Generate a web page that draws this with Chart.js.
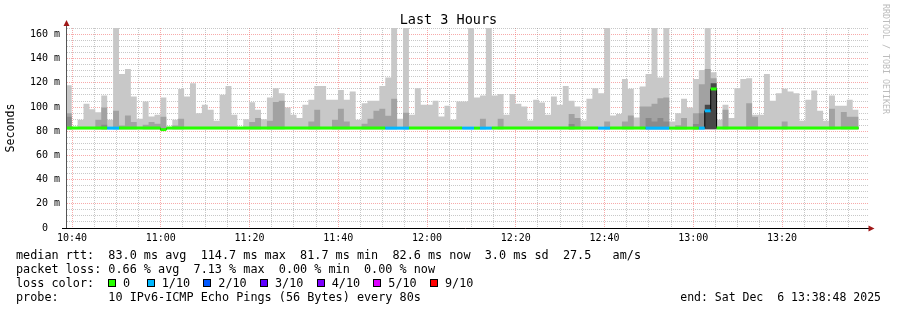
<!DOCTYPE html>
<html>
<head>
<meta charset="utf-8">
<script src="https://cdn.jsdelivr.net/npm/chart.js@4.4.1/dist/chart.umd.min.js"></script>
<style>
  html, body { margin: 0; padding: 0; background: #fff; }
  #wrap { position: relative; width: 897px; height: 310px; overflow: hidden; }
  #c { position: absolute; left: 0; top: 0; }
  .t { position: absolute; font-family: "DejaVu Sans Mono", monospace; white-space: pre; color: #000; }
  .leg { font-size: 11.8px; line-height: 14px; left: 16px; }
  .sq { position: absolute; width: 6px; height: 6px; border: 1px solid #000; top: 279px; }
  .ll { position: absolute; font-family: "DejaVu Sans Mono", monospace; font-size: 11.8px; line-height: 14px; top: 275.5px; white-space: pre; }
</style>
</head>
<body>
<div id="wrap">
  <canvas id="c" width="897" height="310"></canvas>
  <div class="t" id="title" style="left:0;width:897px;top:11px;text-align:center;font-size:13.5px;line-height:16px;">Last 3 Hours</div>
  <div class="t" style="left:881px;top:4px;font-size:8.3px;line-height:10px;color:#bcbcbc;writing-mode:vertical-rl;">RRDTOOL / TOBI OETIKER</div>
  <div class="t leg" style="top:248px;">median rtt:  83.0 ms avg  114.7 ms max  81.7 ms min  82.6 ms now  3.0 ms sd  27.5   am/s</div>
  <div class="t leg" style="top:261.5px;">packet loss: 0.66 % avg  7.13 % max  0.00 % min  0.00 % now</div>
  <div class="t leg" style="top:275.5px;">loss color:</div>
  <div id="losslegend"></div>
  <div class="t leg" style="top:290px;">probe:       10 IPv6-ICMP Echo Pings (56 Bytes) every 80s</div>
  <div class="t leg" style="top:290px;left:auto;right:16px;font-size:11.5px;">end: Sat Dec  6 13:38:48 2025</div>
</div>
<script>
// ---------------- data (ms, one value per 80 s probe step) ----------------
const xTickLabels = ['10:40', '11:00', '11:20', '11:40', '12:00', '12:20', '12:40', '13:00', '13:20'];
const yTickLabels = ['0  ', '20 m', '40 m', '60 m', '80 m', '100 m', '120 m', '140 m', '160 m'];
const lossLegendLabels = ['0', '1/10', '2/10', '3/10', '4/10', '5/10', '9/10'];
const lossLegendTenths = [0, 1, 2, 3, 4, 5, 9];

// outer smoke (max of the 10 pings)
const smokeMax = [
  118, 83, 89.5, 102.7, 98.3, 95.8, 109.5, 89.5, 170, 127.4,
  131.5, 108.7, 90.3, 104.6, 92.2, 93.6, 107.9, 83, 89.5, 115,
  108.7, 119.7, 95, 101.9, 97.7, 88.7, 110.1, 117.5, 93.6, 83,
  90, 104, 97.7, 90, 107.9, 115.6, 111.5, 99.7, 93.6, 90.9,
  101.9, 106, 117.5, 117.5, 106, 106, 114.2, 106, 112.8, 89.5,
  103.2, 105.2, 105.2, 117.5, 124.4, 170, 90.3, 170, 93.6, 115.6,
  101.9, 101.9, 105.2, 92.2, 101, 89.5, 104.6, 104.6, 170, 107.9,
  109.5, 170, 109.5, 110.9, 93.6, 110.9, 102.7, 100.5, 88.9, 106,
  103.8, 93.6, 108.7, 101.9, 117.5, 105.2, 100.5, 88.9, 106.8, 115.6,
  111.5, 170, 93.1, 94.2, 123.3, 115.1, 91.4, 117, 127.4, 170,
  124.4, 170, 88.1, 95, 106.8, 99.7, 123.3, 130.7, 170, 128.8,
  89.5, 101.9, 90.9, 115.6, 123.3, 123.8, 93.6, 93.6, 127.4, 105.2,
  111.5, 115.1, 112.8, 111.5, 88.7, 106, 113.7, 96.9, 88.7, 109.5,
  101, 101, 106, 97.7
];
// inner smoke (medium grey), null = none visible
const smokeMid = [
  95, null, null, null, null, 89.5, 99.7, null, 96.9, 84.8,
  93, 87.6, null, 85.4, 87.6, 86.2, 92, null, 84.8, 90.3,
  null, null, null, null, null, null, null, null, null, null,
  null, 87.6, 90.9, null, 88.7, 104.1, 105.2, null, null, null,
  null, 88.1, 97.7, null, null, 89.5, 98.6, 88.1, null, null,
  86.2, 90.3, 96.9, 98.6, 92.8, 106.8, null, 95.3, null, null,
  null, null, null, null, null, null, null, null, null, null,
  90.3, null, null, 90.3, null, null, null, null, null, null,
  null, null, null, null, null, 94.2, 90.9, null, null, null,
  null, 88.1, null, null, 88.1, 93.1, null, 100.5, 100.5, 102.7,
  107.4, 107.9, null, 85, 90.9, null, 95, 118.9, 131.5, 123.8,
  null, 97.7, null, null, null, 103.2, 92, null, null, null,
  null, 88.1, null, null, null, null, null, null, null, 98.6,
  null, 96, 92, 92
];
// core smoke (dark grey)
const smokeCore = [
  92, null, null, null, null, null, 85.4, null, null, null,
  null, null, null, null, null, null, null, null, null, null,
  null, null, null, null, null, null, null, null, null, null,
  null, null, null, null, null, null, null, null, null, null,
  null, null, null, null, null, null, null, null, null, null,
  null, null, null, null, null, null, null, null, null, null,
  null, null, null, null, null, null, null, null, null, null,
  null, null, null, null, null, null, null, null, null, null,
  null, null, null, null, null, 86, null, null, null, null,
  null, null, null, null, null, null, null, null, 91, 88,
  91, 88, null, null, null, null, 86, 95, null, null,
  null, null, null, null, null, null, null, null, null, null,
  null, null, null, null, null, null, null, null, null, null,
  null, null, null, null
];
// densest smoke (near black)
const smokeDense = [
  null, null, null, null, null, null, null, null, null, null,
  null, null, null, null, null, null, null, null, null, null,
  null, null, null, null, null, null, null, null, null, null,
  null, null, null, null, null, null, null, null, null, null,
  null, null, null, null, null, null, null, null, null, null,
  null, null, null, null, null, null, null, null, null, null,
  null, null, null, null, null, null, null, null, null, null,
  null, null, null, null, null, null, null, null, null, null,
  null, null, null, null, null, null, null, null, null, null,
  null, null, null, null, null, null, null, null, null, null,
  null, null, null, null, null, null, null, null, 101.9, 119.7,
  null, null, null, null, null, null, null, null, null, null,
  null, null, null, null, null, null, null, null, null, null,
  null, null, null, null
];
// median rtt
const medianRtt = [
  82.6, 82.6, 82.6, 82.6, 82.6, 82.6, 82.6, 82.6, 82.6, 82.6,
  82.6, 82.6, 82.6, 82.6, 82.6, 82.6, 81.4, 82.6, 82.6, 82.6,
  82.6, 82.6, 82.6, 82.6, 82.6, 82.6, 82.6, 82.6, 82.6, 82.6,
  82.6, 82.6, 82.6, 82.6, 82.6, 82.6, 82.6, 82.6, 82.6, 82.6,
  82.6, 82.6, 82.6, 82.6, 82.6, 82.6, 82.6, 82.6, 82.6, 82.6,
  82.6, 82.6, 82.6, 82.6, 82.6, 82.6, 82.6, 82.6, 82.6, 82.6,
  82.6, 82.6, 82.6, 82.6, 82.6, 82.6, 82.6, 82.6, 82.6, 82.6,
  82.6, 82.6, 82.6, 82.6, 82.6, 82.6, 82.6, 82.6, 82.6, 82.6,
  82.6, 82.6, 82.6, 82.6, 82.6, 82.6, 82.6, 82.6, 82.6, 82.6,
  82.6, 82.6, 82.6, 82.6, 82.6, 82.6, 82.6, 82.6, 82.6, 82.6,
  82.6, 82.6, 82.6, 82.6, 82.6, 82.6, 82.6, 82.6, 96.9, 115,
  82.6, 82.6, 82.6, 82.6, 82.6, 82.6, 82.6, 82.6, 82.6, 82.6,
  82.6, 82.6, 82.6, 82.6, 82.6, 82.6, 82.6, 82.6, 82.6, 82.6,
  82.6, 82.6, 82.6, 82.6
];
// lost pings out of 10 per step
const lossTenths = [
  0, 0, 0, 0, 0, 0, 0, 1, 1, 0,
  0, 0, 0, 0, 0, 0, 0, 0, 0, 0,
  0, 0, 0, 0, 0, 0, 0, 0, 0, 0,
  0, 0, 0, 0, 0, 0, 0, 0, 0, 0,
  0, 0, 0, 0, 0, 0, 0, 0, 0, 0,
  0, 0, 0, 0, 1, 1, 1, 1, 0, 0,
  0, 0, 0, 0, 0, 0, 0, 1, 1, 0,
  1, 1, 0, 0, 0, 0, 0, 0, 0, 0,
  0, 0, 0, 0, 0, 0, 0, 0, 0, 0,
  1, 1, 0, 0, 0, 0, 0, 0, 1, 1,
  1, 1, 0, 0, 0, 0, 0, 1, 1, 0,
  0, 0, 0, 0, 0, 0, 0, 0, 0, 0,
  0, 0, 0, 0, 0, 0, 0, 0, 0, 0,
  0, 0, 0, 0
];

// ---------------- styling / axis configuration ----------------
const LOSS_COLORS = {0: '#26ff00', 1: '#00b8ff', 2: '#0059ff', 3: '#5e00ff', 4: '#7e00ff', 5: '#dd00ff', 9: '#ff0000'};
const STEP_MIN = 80 / 60;             // probe interval in minutes
const FIRST_STEP = -1.403;            // start of first step, minutes after 10:40
const X_MIN = -1.127, X_MAX = 179.38; // plot range, minutes after 10:40
const Y_MAX = 165.4;
const SMOKE_BASE = 81.6;
const FONT = '"DejaVu Sans Mono", monospace';
const MINOR = 'rgba(140,140,140,0.48)';
const MAJOR = 'rgba(240,100,100,0.55)';

const gridMinutes = []; for (let m = 0; m <= 175; m += 5) gridMinutes.push(m);
const gridMs = []; for (let v = 0; v <= 165; v += 5) gridMs.push(v);

const stepStart = i => FIRST_STEP + i * STEP_MIN;

function stepPoints(vals) {
  const pts = vals.map((v, i) => ({x: stepStart(i), y: v == null ? SMOKE_BASE : v}));
  const last = vals[vals.length - 1];
  pts.push({x: stepStart(vals.length), y: last == null ? SMOKE_BASE : last});
  return pts;
}
// median drawn as horizontal runs only; break the line where the level changes
function medianRuns(vals) {
  const pts = [];
  vals.forEach((v, i) => {
    pts.push({x: stepStart(i), y: v, s: i});
    if (i === vals.length - 1 || vals[i + 1] !== v) {
      pts.push({x: stepStart(i + 1), y: v, s: i});
      if (i < vals.length - 1) pts.push({x: stepStart(i + 1), y: null, s: i});
    }
  });
  return pts;
}
function smokeSet(vals, color, order) {
  return {
    data: stepPoints(vals), stepped: 'before', borderWidth: 0, pointRadius: 0,
    backgroundColor: color, borderColor: color, fill: {value: SMOKE_BASE}, order: order
  };
}

// loss colour legend (html)
const ll = document.getElementById('losslegend');
const sqX = [108, 146.7, 203.3, 260, 316.7, 373.3, 430];
lossLegendLabels.forEach((lab, i) => {
  const s = document.createElement('span'); s.className = 'sq';
  s.style.left = sqX[i] + 'px'; s.style.background = LOSS_COLORS[lossLegendTenths[i]];
  ll.appendChild(s);
  const t = document.createElement('span'); t.className = 'll';
  t.style.left = (sqX[i] + 15) + 'px'; t.textContent = lab;
  ll.appendChild(t);
});

const decor = {
  id: 'decor',
  afterDraw(chart) {
    const ctx = chart.ctx, a = chart.chartArea;
    ctx.save();
    ctx.lineWidth = 1;
    ctx.strokeStyle = '#555';
    ctx.beginPath(); ctx.moveTo(66.5, a.bottom + 0.5); ctx.lineTo(66.5, 24); ctx.stroke();
    ctx.strokeStyle = '#000';
    ctx.beginPath(); ctx.moveTo(62, a.bottom + 0.5); ctx.lineTo(869, a.bottom + 0.5); ctx.stroke();
    ctx.fillStyle = '#a01818';
    ctx.beginPath(); ctx.moveTo(66.5, 20); ctx.lineTo(63.5, 26); ctx.lineTo(69.5, 26); ctx.closePath(); ctx.fill();
    ctx.beginPath(); ctx.moveTo(874.5, a.bottom + 0.5); ctx.lineTo(868.5, a.bottom - 2.5); ctx.lineTo(868.5, a.bottom + 3.5); ctx.closePath(); ctx.fill();
    ctx.restore();
  }
};

const medianData = medianRuns(medianRtt);

new Chart(document.getElementById('c'), {
  type: 'line',
  data: {
    datasets: [
      {
        data: medianData, borderWidth: 3, pointRadius: 0, fill: false, spanGaps: false,
        borderColor: LOSS_COLORS[0], borderCapStyle: 'butt', order: 0,
        segment: { borderColor: c => LOSS_COLORS[lossTenths[medianData[c.p0DataIndex].s]] }
      },
      {
        data: stepPoints(medianRtt), stepped: 'before', borderWidth: 1, pointRadius: 0, fill: false,
        borderColor: '#000', order: 1
      },
      smokeSet(smokeDense, '#484848', 2),
      smokeSet(smokeCore, '#8a8a8a', 3),
      smokeSet(smokeMid, '#a2a2a2', 4),
      smokeSet(smokeMax, '#c8c8c8', 5)
    ]
  },
  options: {
    responsive: false, animation: false, devicePixelRatio: 1,
    layout: { padding: { left: 0, right: 29, top: 28, bottom: 62 } },
    plugins: { legend: { display: false }, tooltip: { enabled: false }, title: { display: false } },
    elements: { line: { tension: 0 } },
    scales: {
      x: {
        type: 'linear', min: X_MIN, max: X_MAX, z: 1,
        afterBuildTicks: s => { s.ticks = gridMinutes.map(v => ({value: v})); },
        afterFit: s => { s.height = 20; },
        grid: { color: c => (c.tick && c.tick.value % 20 === 0) ? MAJOR : MINOR, lineWidth: 1, drawTicks: false },
        border: { display: false, dash: [1, 1] },
        ticks: {
          autoSkip: false, maxRotation: 0, minRotation: 0, padding: 4, color: '#000',
          font: { family: FONT, size: 10 },
          callback: v => (v % 20 === 0 ? xTickLabels[v / 20] : '')
        }
      },
      y: {
        min: 0, max: Y_MAX, z: 1,
        afterBuildTicks: s => { s.ticks = gridMs.map(v => ({value: v})); },
        afterFit: s => { s.width = 67; },
        grid: { color: c => (c.tick && c.tick.value % 20 === 0) ? MAJOR : MINOR, lineWidth: 1, drawTicks: false },
        border: { display: false, dash: [1, 1] },
        ticks: {
          autoSkip: false, padding: 7, color: '#000',
          font: { family: FONT, size: 10 },
          callback: v => (v % 20 === 0 ? yTickLabels[v / 20] : '')
        },
        title: { display: true, text: 'Seconds', color: '#000', font: { family: FONT, size: 11.6 }, padding: { top: 4, bottom: 0 } }
      }
    }
  },
  plugins: [decor]
});
</script>
</body>
</html>
